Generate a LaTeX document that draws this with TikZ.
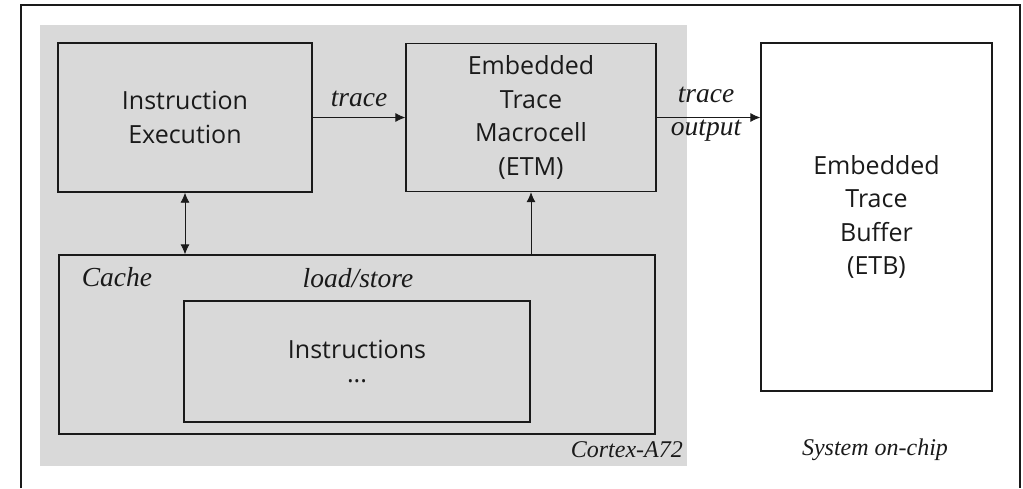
\documentclass[tikz,border=0pt]{standalone}
\usepackage{fontspec}
\setsansfont{Open Sans}
\setmainfont{Liberation Serif}
\usetikzlibrary{arrows.meta}
\definecolor{chipgray}{HTML}{D9D9D9}
\definecolor{inkc}{HTML}{1A1A1A}
\tikzset{
  blockbox/.style={draw=inkc, line width=1.3pt, inner sep=0pt, align=center,
    font=\sffamily\fontsize{25}{33.5}\selectfont, text=inkc},
  flow/.style={draw=inkc, line width=0.8pt, -{Latex[length=10pt,width=9pt]}},
  flowboth/.style={draw=inkc, line width=0.8pt, {Latex[length=10pt,width=9pt]}-{Latex[length=10pt,width=9pt]}},
  tag/.style={font=\rmfamily\itshape\fontsize{27.5}{30}\selectfont, text=inkc, inner sep=0pt},
  smalltag/.style={font=\rmfamily\itshape\fontsize{24}{28}\selectfont, text=inkc, inner sep=0pt}
}
\begin{document}
\begin{tikzpicture}[x=1pt, y=-1pt]
\useasboundingbox (0,0) rectangle (1023,488);
% outer system frame (open at the bottom)
\draw[inkc, line width=1.3pt] (21,488) -- (21,5) -- (1020,5) -- (1020,488);
% processor core area
\node[fill=chipgray, inner sep=0pt, minimum width=647pt, minimum height=441pt] (core) at (363.5,245.5) {};
% blocks
\node[blockbox, fill=chipgray, minimum width=254pt, minimum height=149pt] (exec) at (185,117.5) {Instruction\\Execution};
\node[blockbox, fill=chipgray, minimum width=250pt, minimum height=148pt] (etm) at (531,117.5) {Embedded\\Trace\\Macrocell\\(ETM)};
\node[blockbox, fill=white, minimum width=231pt, minimum height=348pt] (etb) at (876.5,217) {Embedded\\Trace\\Buffer\\(ETB)};
\node[blockbox, fill=chipgray, minimum width=596pt, minimum height=179pt] (cache) at (357,344.5) {};
\node[blockbox, fill=chipgray, minimum width=346pt, minimum height=121pt] (instr) at (357,361.5) {Instructions\\[-9pt]...};
% labels
\node[tag] (cachelbl) at (117,277) {Cache};
\node[tag] (lslbl) at (358,278) {load/store};
\node[smalltag, anchor=east] (corelbl) at (683,450) {Cortex-A72};
\node[smalltag] (soclbl) at (875,450) {System on-chip};
% connectors
\draw[flow] (exec.east) -- node[tag, above=10pt] (tracelbl) {trace} (etm.west);
\draw[flow] (etm.east) -- (etb.west |- etm.east);
\node[tag, align=center, font=\rmfamily\itshape\fontsize{27.5}{33}\selectfont] (outlbl) at (706,114) {trace\\output};
\draw[flowboth] (exec.south) -- (exec.south |- cache.north);
\draw[flow] (etm.south |- cache.north) -- (etm.south);
\end{tikzpicture}
\end{document}
